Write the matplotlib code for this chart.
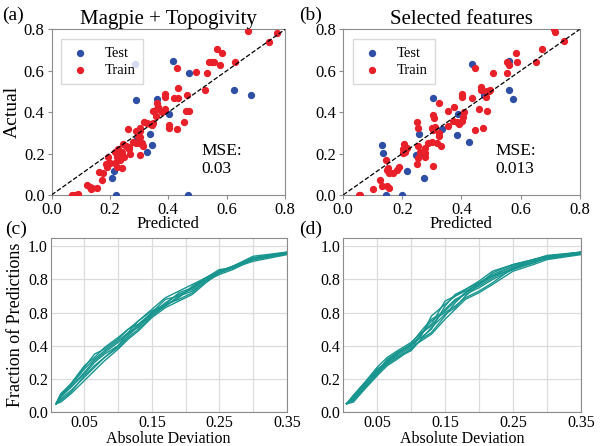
import matplotlib
matplotlib.use("Agg")
import matplotlib.pyplot as plt
from matplotlib.ticker import FixedLocator

plt.rcParams["font.family"] = ["Liberation Serif", "DejaVu Serif"]

# =========================================================
# Datos: dispersión (a) Magpie + Topogivity
# =========================================================

a_test_pred = [0.285, 0.288, 0.362, 0.403, 0.337, 0.345, 0.328, 0.293, 0.214,
               0.208, 0.220, 0.228, 0.417, 0.472, 0.625, 0.683, 0.468]
a_test_act = [0.632, 0.460, 0.465, 0.393, 0.295, 0.242, 0.208, 0.274, 0.117,
              0.081, 0.000, 0.197, 0.647, 0.591, 0.506, 0.482, 0.000]

a_train_pred = [0.674, 0.774, 0.746, 0.566, 0.585, 0.541, 0.550, 0.558, 0.577,
                0.629, 0.429, 0.494, 0.531, 0.525, 0.434, 0.387, 0.389, 0.419,
                0.432, 0.465, 0.362, 0.363, 0.361, 0.390, 0.346, 0.357, 0.377,
                0.461, 0.470, 0.455, 0.403, 0.402, 0.429, 0.317, 0.327, 0.337,
                0.349, 0.344, 0.263, 0.291, 0.303, 0.303, 0.296, 0.303, 0.280,
                0.289, 0.299, 0.309, 0.312, 0.265, 0.255, 0.246, 0.229, 0.217,
                0.240, 0.225, 0.240, 0.248, 0.265, 0.269, 0.303, 0.234, 0.194,
                0.200, 0.217, 0.225, 0.241, 0.186, 0.191, 0.163, 0.177, 0.173,
                0.120, 0.131, 0.137, 0.154, 0.134, 0.090, 0.081, 0.069]
a_train_act = [0.794, 0.783, 0.741, 0.704, 0.688, 0.641, 0.644, 0.644, 0.628,
               0.641, 0.612, 0.593, 0.589, 0.507, 0.519, 0.488, 0.475, 0.470,
               0.469, 0.483, 0.443, 0.427, 0.417, 0.415, 0.406, 0.380, 0.401,
               0.407, 0.407, 0.354, 0.338, 0.322, 0.317, 0.353, 0.346, 0.343,
               0.349, 0.337, 0.319, 0.311, 0.322, 0.309, 0.287, 0.282, 0.258,
               0.250, 0.253, 0.253, 0.238, 0.233, 0.237, 0.245, 0.221, 0.209,
               0.209, 0.185, 0.188, 0.185, 0.221, 0.198, 0.193, 0.169, 0.185,
               0.153, 0.153, 0.137, 0.129, 0.150, 0.137, 0.110, 0.105, 0.072,
               0.048, 0.040, 0.035, 0.035, 0.029, 0.005, 0.000, 0.000]

# =========================================================
# Datos: dispersión (b) Selected features
# =========================================================

b_test_pred = [0.436, 0.561, 0.561, 0.574, 0.476, 0.390, 0.384, 0.425, 0.305,
               0.257, 0.260, 0.246, 0.217, 0.274, 0.131, 0.136, 0.144, 0.200,
               0.336]
b_test_act = [0.631, 0.649, 0.506, 0.462, 0.483, 0.393, 0.290, 0.256, 0.467,
              0.295, 0.204, 0.193, 0.117, 0.081, 0.242, 0.201, 0.000, 0.000,
              0.319]

b_train_pred = [0.712, 0.718, 0.746, 0.672, 0.585, 0.653, 0.588, 0.556, 0.562,
                0.553, 0.508, 0.447, 0.465, 0.469, 0.486, 0.492, 0.497, 0.484,
                0.437, 0.401, 0.402, 0.465, 0.461, 0.486, 0.473, 0.446, 0.410,
                0.375, 0.353, 0.405, 0.401, 0.386, 0.392, 0.371, 0.356, 0.325,
                0.305, 0.308, 0.302, 0.305, 0.311, 0.325, 0.324, 0.288, 0.302,
                0.316, 0.330, 0.254, 0.260, 0.249, 0.252, 0.277, 0.277, 0.276,
                0.254, 0.251, 0.206, 0.201, 0.203, 0.215, 0.209, 0.190, 0.181,
                0.169, 0.156, 0.153, 0.147, 0.145, 0.303, 0.124, 0.149, 0.156,
                0.130, 0.102, 0.056, 0.052]
b_train_act = [0.800, 0.787, 0.744, 0.704, 0.688, 0.644, 0.644, 0.643, 0.626,
               0.591, 0.591, 0.612, 0.507, 0.507, 0.502, 0.504, 0.507, 0.475,
               0.469, 0.486, 0.475, 0.520, 0.414, 0.406, 0.322, 0.314, 0.403,
               0.425, 0.406, 0.378, 0.357, 0.353, 0.343, 0.359, 0.333, 0.443,
               0.386, 0.370, 0.325, 0.314, 0.327, 0.298, 0.285, 0.253, 0.258,
               0.250, 0.238, 0.238, 0.209, 0.354, 0.322, 0.225, 0.201, 0.185,
               0.177, 0.150, 0.246, 0.222, 0.201, 0.225, 0.209, 0.137, 0.121,
               0.105, 0.105, 0.129, 0.118, 0.169, 0.142, 0.072, 0.043, 0.032,
               0.045, 0.029, 0.000, 0.000]

# =========================================================
# Datos: curvas acumuladas (c) y (d)
# =========================================================

c_dev = [0.008, 0.015, 0.03, 0.05, 0.065, 0.08, 0.10, 0.115, 0.13, 0.15,
         0.17, 0.19, 0.21, 0.23, 0.25, 0.27, 0.30, 0.35]
c_curves = [
    [0.05, 0.10, 0.17, 0.27, 0.35, 0.38, 0.44, 0.50, 0.53, 0.60, 0.64, 0.70, 0.75, 0.80, 0.84, 0.87, 0.93, 0.960],
    [0.05, 0.08, 0.13, 0.21, 0.27, 0.33, 0.40, 0.46, 0.52, 0.58, 0.65, 0.68, 0.72, 0.79, 0.85, 0.87, 0.92, 0.955],
    [0.05, 0.11, 0.17, 0.28, 0.33, 0.39, 0.45, 0.50, 0.55, 0.62, 0.69, 0.73, 0.77, 0.81, 0.85, 0.88, 0.94, 0.965],
    [0.05, 0.06, 0.11, 0.19, 0.25, 0.31, 0.38, 0.44, 0.49, 0.57, 0.63, 0.67, 0.71, 0.78, 0.84, 0.87, 0.91, 0.950],
    [0.05, 0.09, 0.15, 0.24, 0.31, 0.36, 0.42, 0.47, 0.53, 0.59, 0.66, 0.71, 0.74, 0.80, 0.84, 0.88, 0.93, 0.960],
    [0.05, 0.10, 0.15, 0.23, 0.30, 0.35, 0.40, 0.48, 0.51, 0.60, 0.68, 0.70, 0.73, 0.79, 0.83, 0.86, 0.92, 0.955],
    [0.05, 0.07, 0.12, 0.22, 0.28, 0.33, 0.39, 0.45, 0.50, 0.58, 0.64, 0.69, 0.76, 0.81, 0.85, 0.88, 0.92, 0.960],
    [0.05, 0.11, 0.16, 0.26, 0.32, 0.37, 0.43, 0.48, 0.55, 0.61, 0.65, 0.72, 0.75, 0.81, 0.86, 0.87, 0.93, 0.965],
]

d_dev = [0.005, 0.015, 0.03, 0.05, 0.065, 0.08, 0.10, 0.115, 0.13, 0.15,
         0.165, 0.18, 0.20, 0.22, 0.25, 0.28, 0.30, 0.35]
d_curves = [
    [0.05, 0.09, 0.16, 0.25, 0.31, 0.35, 0.40, 0.46, 0.58, 0.65, 0.70, 0.73, 0.77, 0.84, 0.89, 0.92, 0.940, 0.965],
    [0.05, 0.06, 0.13, 0.22, 0.28, 0.32, 0.38, 0.44, 0.48, 0.58, 0.66, 0.72, 0.78, 0.82, 0.88, 0.91, 0.930, 0.960],
    [0.05, 0.10, 0.17, 0.27, 0.33, 0.37, 0.42, 0.48, 0.52, 0.62, 0.68, 0.71, 0.75, 0.80, 0.86, 0.90, 0.930, 0.955],
    [0.05, 0.07, 0.14, 0.23, 0.29, 0.33, 0.38, 0.47, 0.55, 0.60, 0.64, 0.69, 0.73, 0.78, 0.87, 0.91, 0.925, 0.960],
    [0.05, 0.08, 0.15, 0.24, 0.32, 0.36, 0.41, 0.45, 0.50, 0.64, 0.71, 0.74, 0.78, 0.83, 0.88, 0.92, 0.945, 0.965],
    [0.05, 0.09, 0.16, 0.26, 0.30, 0.34, 0.39, 0.43, 0.47, 0.56, 0.62, 0.68, 0.72, 0.77, 0.85, 0.89, 0.920, 0.950],
    [0.05, 0.07, 0.14, 0.22, 0.31, 0.36, 0.40, 0.47, 0.53, 0.67, 0.70, 0.74, 0.79, 0.85, 0.89, 0.92, 0.940, 0.960],
    [0.05, 0.08, 0.15, 0.25, 0.30, 0.35, 0.41, 0.49, 0.56, 0.61, 0.67, 0.72, 0.76, 0.81, 0.87, 0.90, 0.935, 0.965],
    [0.05, 0.10, 0.17, 0.24, 0.29, 0.33, 0.37, 0.44, 0.51, 0.59, 0.63, 0.70, 0.77, 0.82, 0.86, 0.91, 0.930, 0.955],
]

scatter_ticks = [0.0, 0.2, 0.4, 0.6, 0.8]
frac_ticks = [0.0, 0.2, 0.4, 0.6, 0.8, 1.0]
frac_labels = ["0.0", "0.2", "0.4", "0.8", "0.8", "1.0"]
dev_ticks = [0.05, 0.15, 0.25, 0.35]

BLUE = "#2f4fa6"
RED = "#e8202a"
TEAL = "#17958e"
SPINE = "#8c8c8c"

fig = plt.figure(figsize=(6.0, 4.46), dpi=100)

ax_a = fig.add_axes([0.086, 0.563, 0.389, 0.371])
ax_b = fig.add_axes([0.572, 0.563, 0.394, 0.371])
ax_c = fig.add_axes([0.0845, 0.0762, 0.3935, 0.390])
ax_d = fig.add_axes([0.572, 0.0762, 0.396, 0.390])


def scatter_panel(ax, tp, ta, trp, tra, mse, title):
    ax.scatter(tp, ta, s=18, color=BLUE, label="Test", zorder=3)
    ax.scatter(trp, tra, s=18, color=RED, label="Train", zorder=3)
    ax.plot([0, 0.8], [0, 0.8], "--", color="black", linewidth=0.9, zorder=4)
    ax.set_xlim(0, 0.8)
    ax.set_ylim(0, 0.8)
    ax.set_xticks(scatter_ticks)
    ax.set_yticks(scatter_ticks)
    ax.tick_params(labelsize=12, length=3, color=SPINE, pad=2)
    for s in ax.spines.values():
        s.set_color(SPINE)
    ax.set_xlabel("Predicted", fontsize=12, labelpad=-1)
    ax.set_title(title, fontsize=15, pad=4)
    ax.text(0.515, 0.25, f"MSE:\n{mse}", fontsize=12.5, va="top",
            linespacing=1.15)
    leg = ax.legend(loc="upper left", fontsize=10.5, handletextpad=0.9,
                    borderpad=0.5, labelspacing=0.25, handlelength=1.6,
                    fancybox=False, bbox_to_anchor=(0.01, 0.985))
    leg.get_frame().set_edgecolor("#d0d0d0")


scatter_panel(ax_a, a_test_pred, a_test_act, a_train_pred, a_train_act,
              "0.03", "Magpie + Topogivity")
ax_a.set_ylabel("Actual", fontsize=14, labelpad=2)

scatter_panel(ax_b, b_test_pred, b_test_act, b_train_pred, b_train_act,
              "0.013", "Selected features")


def curve_panel(ax, xs, curves):
    for ys in curves:
        ax.plot(xs, ys, color=TEAL, linewidth=1.0)
    ax.set_xlim(0, 0.35)
    ax.set_ylim(0, 1.05)
    ax.xaxis.set_major_locator(FixedLocator(dev_ticks))
    ax.xaxis.set_minor_locator(FixedLocator([0.10, 0.20, 0.30]))
    ax.set_yticks(frac_ticks)
    ax.set_yticklabels(frac_labels)
    ax.grid(True, which="both", color="#dcdcdc", linewidth=0.9)
    ax.set_axisbelow(True)
    ax.tick_params(which="both", length=0, labelsize=11.5, pad=2)
    for s in ax.spines.values():
        s.set_color(SPINE)
    ax.set_xlabel("Absolute Deviation", fontsize=11.5, labelpad=0.5)


curve_panel(ax_c, c_dev, c_curves)
ax_c.set_ylabel("Fraction of Predictions", fontsize=13, labelpad=3)
curve_panel(ax_d, d_dev, d_curves)

# =========================================================
# Etiquetas de panel
# =========================================================

fig.text(0.003, 0.965, "(a)", fontsize=14, va="center")
fig.text(0.498, 0.965, "(b)", fontsize=14, va="center")
fig.text(0.008, 0.486, "(c)", fontsize=14, va="center")
fig.text(0.498, 0.486, "(d)", fontsize=14, va="center")

fig.savefig("out.png", dpi=100)
